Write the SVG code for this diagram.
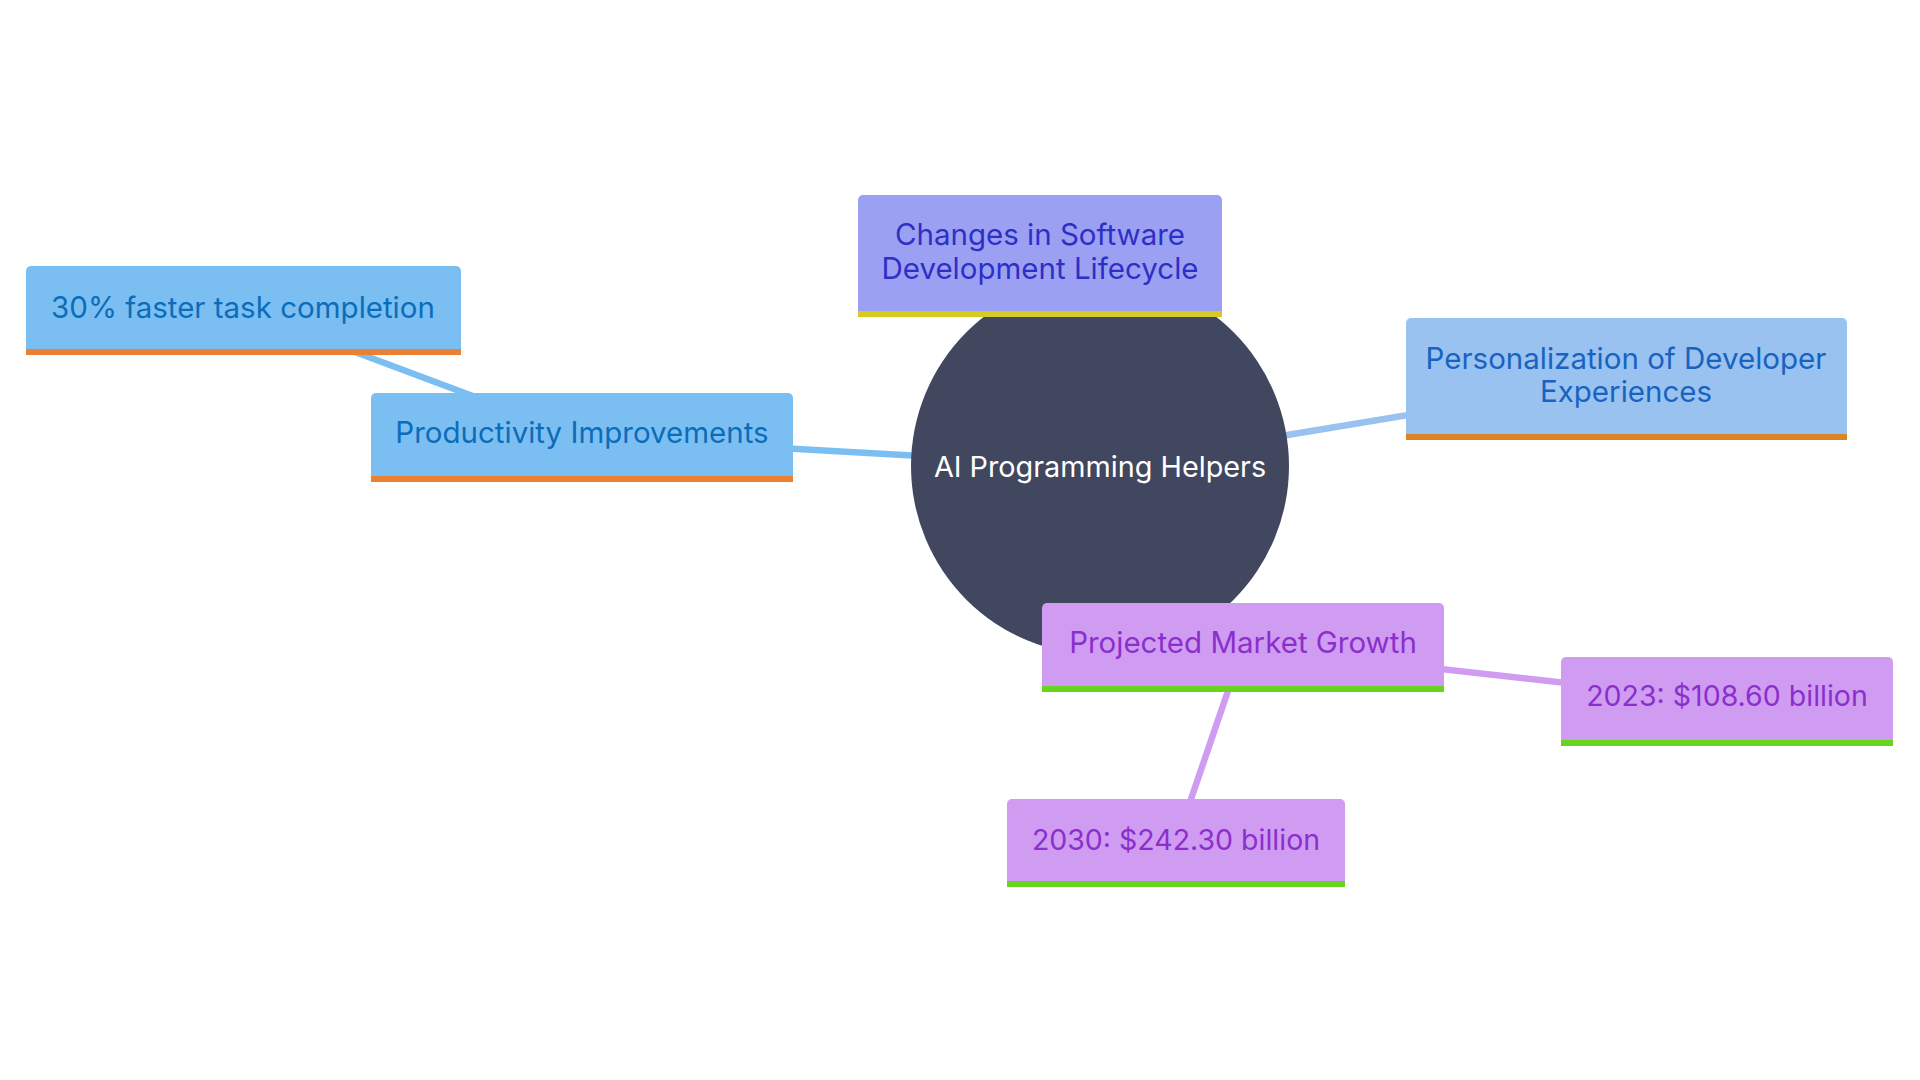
<svg xmlns="http://www.w3.org/2000/svg" width="1920" height="1080" viewBox="0 0 1920 1080">
<style>
text{font-family:Inter,"Noto Sans","Liberation Sans",sans-serif;font-size:29.5px;text-anchor:middle}
.root{font-size:28.8px}
.num{font-size:28.5px}
.conn{fill:none;stroke-width:6.5;stroke-linecap:round}
.blue{fill:#7BBFF2}.blueT{fill:#0B6DBA}
.lav{fill:#9BA0F3}.lavT{fill:#2E2FC6}
.sky{fill:#99C2F0}.skyT{fill:#1863C0}
.pur{fill:#CF9CF2}.purT{fill:#8B2FCC}
.orange{fill:#EB7F32}.orange2{fill:#DB8425}.yellow{fill:#D6CB23}.green{fill:#69D41E}
</style>
<rect width="1920" height="1080" fill="#FFFFFF"/>
<g id="connectors">
<line class="conn" x1="243" y1="310" x2="582" y2="437" stroke="#7BBFF2"/>
<line class="conn" x1="582" y1="437" x2="1100" y2="466" stroke="#7BBFF2"/>
<line class="conn" x1="1100" y1="466" x2="1626" y2="379" stroke="#99C2F0"/>
<line class="conn" x1="1100" y1="466" x2="1040" y2="256" stroke="#9BA0F3"/>
<line class="conn" x1="1100" y1="466" x2="1243" y2="647" stroke="#CF9CF2"/>
<line class="conn" x1="1243" y1="647" x2="1727" y2="701" stroke="#CF9CF2"/>
<line class="conn" x1="1243" y1="647" x2="1176" y2="843" stroke="#CF9CF2"/>
</g>
<g id="root">
<circle cx="1100" cy="466" r="189" fill="#41475E"/>
<text class="root" x="1100" y="477" fill="#FFFFFF">AI Programming Helpers</text>
</g>
<g id="n-faster">
<path class="blue" d="M26,349 V271 a5,5 0 0 1 5,-5 H456 a5,5 0 0 1 5,5 V349 Z"/>
<rect class="orange" x="26" y="349" width="435" height="6"/>
<text class="blueT" x="243" y="318">30% faster task completion</text>
</g>
<g id="n-productivity">
<path class="blue" d="M371,476 V398 a5,5 0 0 1 5,-5 H788 a5,5 0 0 1 5,5 V476 Z"/>
<rect class="orange" x="371" y="476" width="422" height="6"/>
<text class="blueT" x="582" y="443">Productivity Improvements</text>
</g>
<g id="n-changes">
<path class="lav" d="M858,311 V200 a5,5 0 0 1 5,-5 H1217 a5,5 0 0 1 5,5 V311 Z"/>
<rect class="yellow" x="858" y="311" width="364" height="6"/>
<text class="lavT" x="1040" y="245">Changes in Software</text>
<text class="lavT" x="1040" y="279">Development Lifecycle</text>
</g>
<g id="n-personalization">
<path class="sky" d="M1406,434 V323 a5,5 0 0 1 5,-5 H1842 a5,5 0 0 1 5,5 V434 Z"/>
<rect class="orange2" x="1406" y="434" width="441" height="6"/>
<text class="skyT" x="1626" y="369">Personalization of Developer</text>
<text class="skyT" x="1626" y="402">Experiences</text>
</g>
<g id="n-market">
<path class="pur" d="M1042,686 V608 a5,5 0 0 1 5,-5 H1439 a5,5 0 0 1 5,5 V686 Z"/>
<rect class="green" x="1042" y="686" width="402" height="6"/>
<text class="purT" x="1243" y="653">Projected Market Growth</text>
</g>
<g id="n-2023">
<path class="pur" d="M1561,740 V662 a5,5 0 0 1 5,-5 H1888 a5,5 0 0 1 5,5 V740 Z"/>
<rect class="green" x="1561" y="740" width="332" height="6"/>
<text class="purT num" x="1727" y="706">2023: $108.60 billion</text>
</g>
<g id="n-2030">
<path class="pur" d="M1007,881 V804 a5,5 0 0 1 5,-5 H1340 a5,5 0 0 1 5,5 V881 Z"/>
<rect class="green" x="1007" y="881" width="338" height="6"/>
<text class="purT num" x="1176" y="850">2030: $242.30 billion</text>
</g>
</svg>
